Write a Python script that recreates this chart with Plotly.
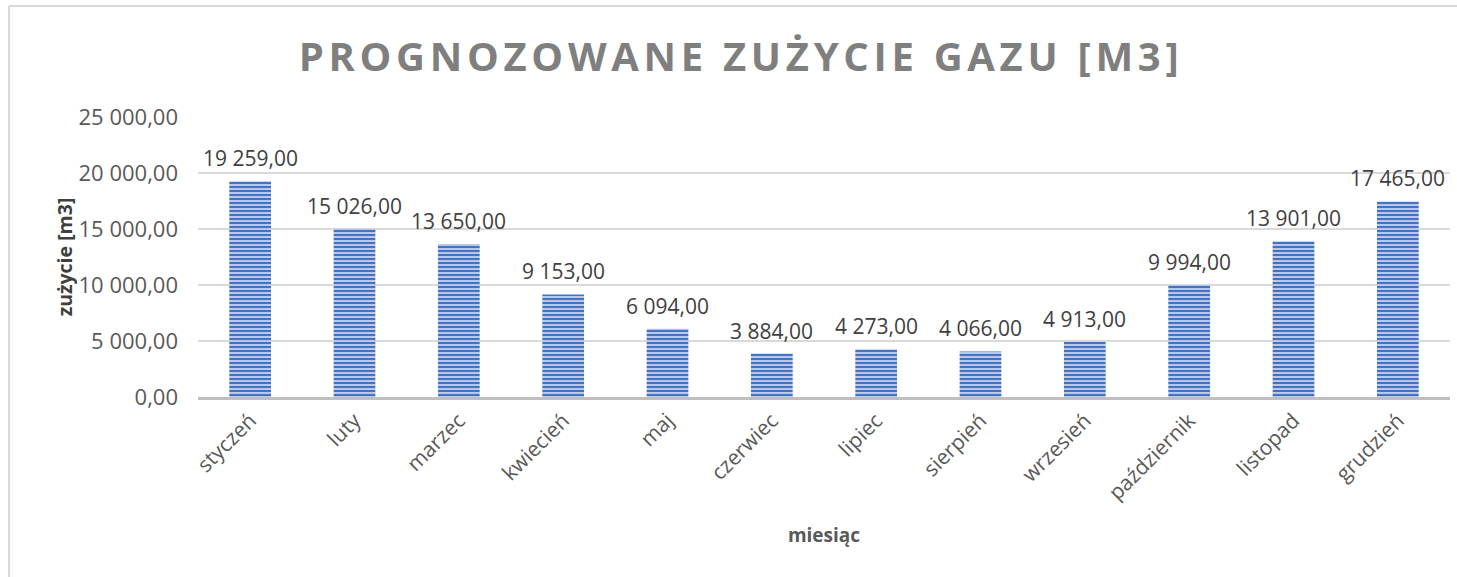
import plotly.graph_objects as go

months = ["styczeń", "luty", "marzec", "kwiecień", "maj", "czerwiec", "lipiec",
          "sierpień", "wrzesień", "październik", "listopad", "grudzień"]
values = [19259, 15026, 13650, 9153, 6094, 3884, 4273, 4066, 4913, 9994, 13901, 17465]
y_ticks = [0, 5000, 10000, 15000, 20000, 25000]

def fmt(v):
    s = f"{v:,.2f}"
    return s.replace(",", " ").replace(".", ",")

W, H = 1457, 577
L, R, T, B = 198, 7, 117, 180
pw, ph = W - L - R, H - T - B

fig = go.Figure()
fig.add_trace(go.Bar(
    x=months, y=values,
    marker=dict(
        color="#4472c4",
        line=dict(width=0),
        pattern=dict(shape="-", size=4, solidity=0.5,
                     fgcolor="#4472c4", bgcolor="#b7c9ea", fillmode="replace"),
    ),
    hoverinfo="skip",
))

for m, v in zip(months, values):
    fig.add_annotation(x=m, y=v, text=fmt(v), showarrow=False,
                       yanchor="bottom", yshift=7,
                       font=dict(family="Open Sans", size=21, color="#404040"))

px2x = lambda p: (p - L) / pw
px2y = lambda p: (H - B - p) / ph
fig.add_shape(type="line", xref="paper", yref="paper",
              x0=px2x(9), x1=px2x(1470), y0=px2y(6), y1=px2y(6),
              line=dict(color="#d9d9d9", width=2))
fig.add_shape(type="line", xref="paper", yref="paper",
              x0=px2x(9), x1=px2x(9), y0=px2y(6), y1=px2y(590),
              line=dict(color="#d9d9d9", width=2))

fig.update_layout(
    width=W, height=H,
    margin=dict(l=L, r=R, t=T, b=B),
    paper_bgcolor="white", plot_bgcolor="white",
    separators=", ",
    bargap=0.6,
    showlegend=False,
    title=dict(text="<b>PROGNOZOWANE ZUŻYCIE GAZU [M3]</b>",
               x=741 / W, xanchor="center", xref="container",
               y=1 - 57 / H, yanchor="middle", yref="container",
               font=dict(family="Open Sans", size=40, color="#7f7f7f")),
    xaxis=dict(
        showline=True, linecolor="#bfbfbf", linewidth=3,
        tickangle=-45, ticks="",
        tickfont=dict(family="Open Sans", size=21, color="#595959"),
        title=dict(text="<b>miesiąc</b>", standoff=25,
                   font=dict(family="Open Sans", size=19, color="#595959")),
    ),
    yaxis=dict(
        range=[0, 25000], tickvals=y_ticks, tickformat=",.2f",
        showgrid=True, gridcolor="#d9d9d9", gridwidth=1.5,
        zeroline=False, ticks="",
        ticklabelstandoff=19,
        tickfont=dict(family="Open Sans", size=22, color="#595959"),
        title=dict(text="<b>zużycie [m3]</b>", standoff=0,
                   font=dict(family="Open Sans", size=19.5, color="#404040")),
    ),
)

post = """
document.querySelectorAll('.gtitle').forEach(function(e){e.style.letterSpacing='4.7px';});
"""
fig.write_html("out.html", post_script=post)
